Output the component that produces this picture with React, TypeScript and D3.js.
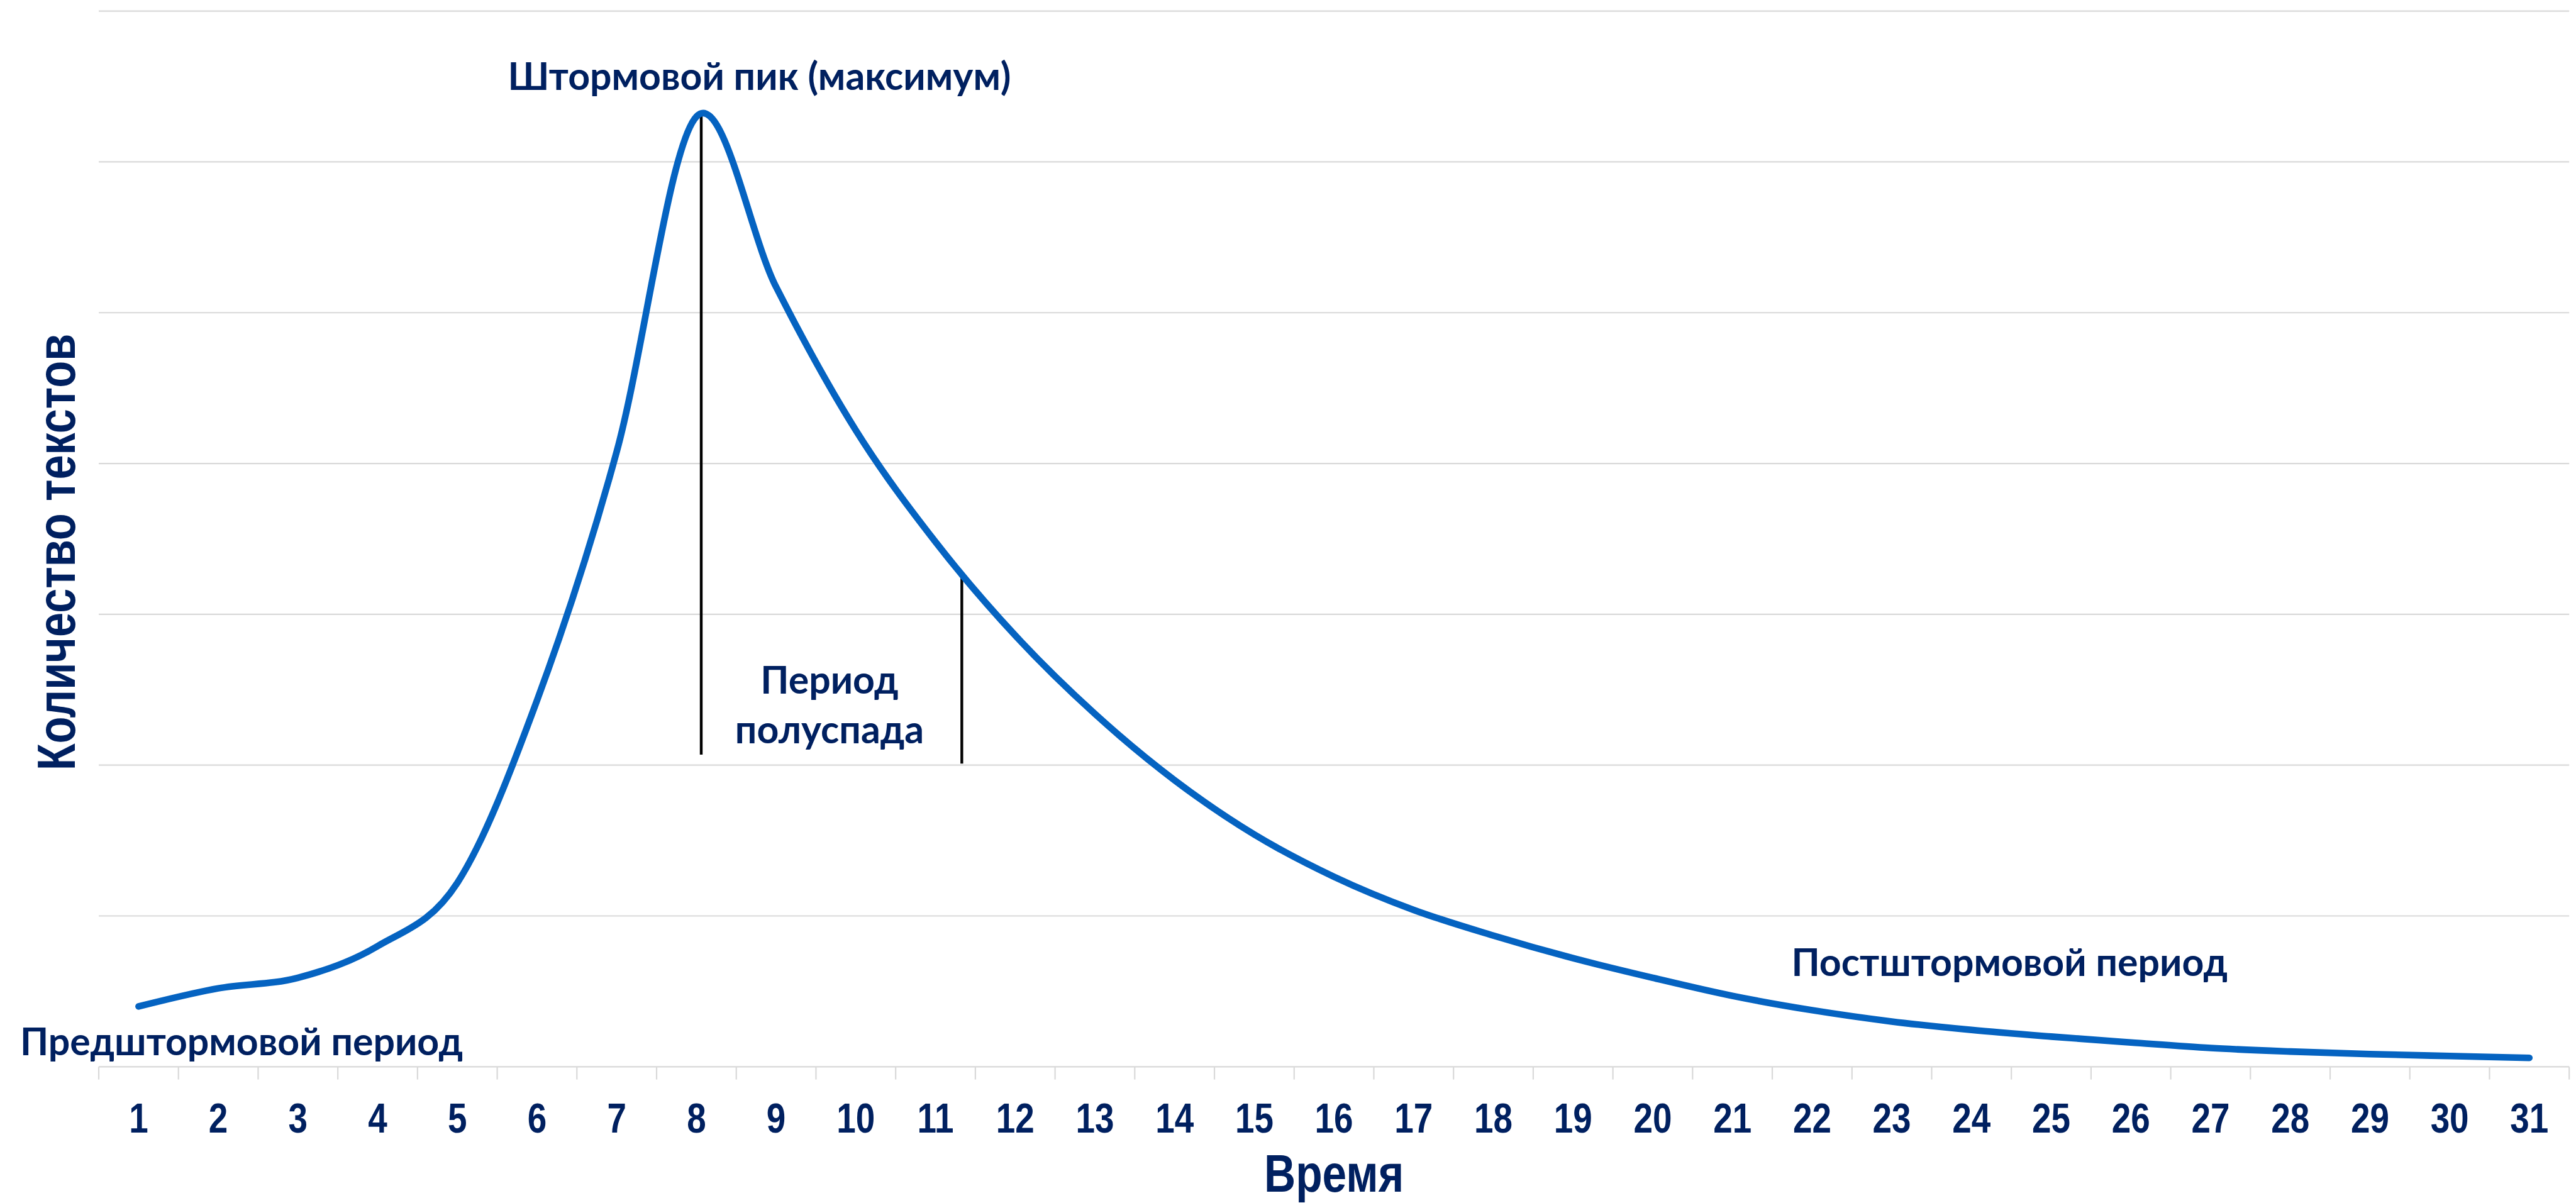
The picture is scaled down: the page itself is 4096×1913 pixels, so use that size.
import * as d3 from "d3";

// days on the x axis (tick labels)
const days = [1, 2, 3, 4, 5, 6, 7, 8, 9, 10, 11, 12, 13, 14, 15, 16, 17, 18, 19, 20, 21, 22, 23, 24, 25, 26, 27, 28, 29, 30, 31];
// number of texts per day (arbitrary units)
const counts = [4.0, 5.2, 5.9, 8.0, 12.2, 24.3, 40.8, 63.0, 51.7, 42.2, 34.8, 28.6, 23.4, 19.0, 15.4, 12.6, 10.4, 8.7, 7.2, 5.9, 4.7, 3.75, 3.0, 2.44, 2.0, 1.61, 1.24, 1.01, 0.84, 0.71, 0.59];
// horizontal gridlines
const gridValues = [10, 20, 30, 40, 50, 60, 70];

// marker lines: [day, from value, to value]
const peakMarker = [8.06, 20.7, 63.4];
const halfMarker = [11.33, 20.1, 32.6];

const W = 4650;
const H = 2172;
const left = 178;
const right = 4638;
const top = 20;
const bottom = 1926;

const navy = "#002060";
const blue = "#0563C1";
const grid = "#d9d9d9";
const narrow = "'Liberation Sans', Arial, sans-serif";
const squeeze = 0.83; // no narrow font installed, so squeeze Liberation Sans
const calibri = "Lato, 'Open Sans', sans-serif";

export default function App() {
  const x = d3.scaleLinear([0.5, days.length + 0.5], [left, right]);
  const y = d3.scaleLinear([0, 70], [bottom, top]);

  const line = d3
    .line<number>((d, i) => x(days[i]), (d) => y(d))
    .curve(d3.curveCatmullRom.alpha(0));

  const bounds = d3.range(days.length + 1).map((k) => k + 0.5);

  return (
    <svg
      width={4096}
      height={1913}
      viewBox={`0 0 ${W} ${H}`}
      style={{ position: "absolute", left: 0, top: 0, background: "#fff" }}
    >
      {/* gridlines */}
      <g stroke={grid} strokeWidth={2.5}>
        {gridValues.map((v) => (
          <line key={v} x1={left} x2={right} y1={y(v)} y2={y(v)} />
        ))}
        <line x1={left} x2={right} y1={y(0)} y2={y(0)} />
        {bounds.map((b) => (
          <line key={b} x1={x(b)} x2={x(b)} y1={y(0)} y2={y(0) + 23} />
        ))}
      </g>

      {/* tick labels */}
      <g fill={navy} fontFamily={narrow} fontWeight="bold" fontSize={75} textAnchor="middle">
        {days.map((d) => (
          <text key={d} transform={`translate(${x(d)},2045) scale(${squeeze},1)`}>
            {d}
          </text>
        ))}
      </g>

      {/* axis titles */}
      <text
        transform={`translate(${(left + right) / 2},2151) scale(${squeeze},1)`}
        fill={navy}
        fontFamily={narrow}
        fontWeight="bold"
        fontSize={95}
        textAnchor="middle"
      >
        Время
      </text>
      <text
        transform={`translate(135,${(top + bottom) / 2 + 24}) rotate(-90) scale(${squeeze},1)`}
        fill={navy}
        fontFamily={narrow}
        fontWeight="bold"
        fontSize={96}
        textAnchor="middle"
      >
        Количество текстов
      </text>

      {/* marker lines */}
      <g stroke="#000" strokeWidth={5}>
        <line x1={x(peakMarker[0])} x2={x(peakMarker[0])} y1={y(peakMarker[1])} y2={y(peakMarker[2])} />
        <line x1={x(halfMarker[0])} x2={x(halfMarker[0])} y1={y(halfMarker[1])} y2={y(halfMarker[2])} />
      </g>

      {/* curve */}
      <path d={line(counts) ?? ""} fill="none" stroke={blue} strokeWidth={12} strokeLinecap="round" strokeLinejoin="round" />

      {/* annotations */}
      <g fill={navy} fontFamily={calibri} fontWeight="bold" fontSize={69}>
        <text x={x(8.79)} y={y(64.78)} textAnchor="middle">
          Штормовой пик (максимум)
        </text>
        <text x={x(9.67)} y={y(24.75)} textAnchor="middle">
          Период
        </text>
        <text x={x(9.67)} y={y(21.45)} textAnchor="middle">
          полуспада
        </text>
        <text x={x(-0.487)} y={y(0.77)}>
          Предштормовой период
        </text>
        <text x={x(21.74)} y={y(6.02)}>
          Постштормовой период
        </text>
      </g>
    </svg>
  );
}
